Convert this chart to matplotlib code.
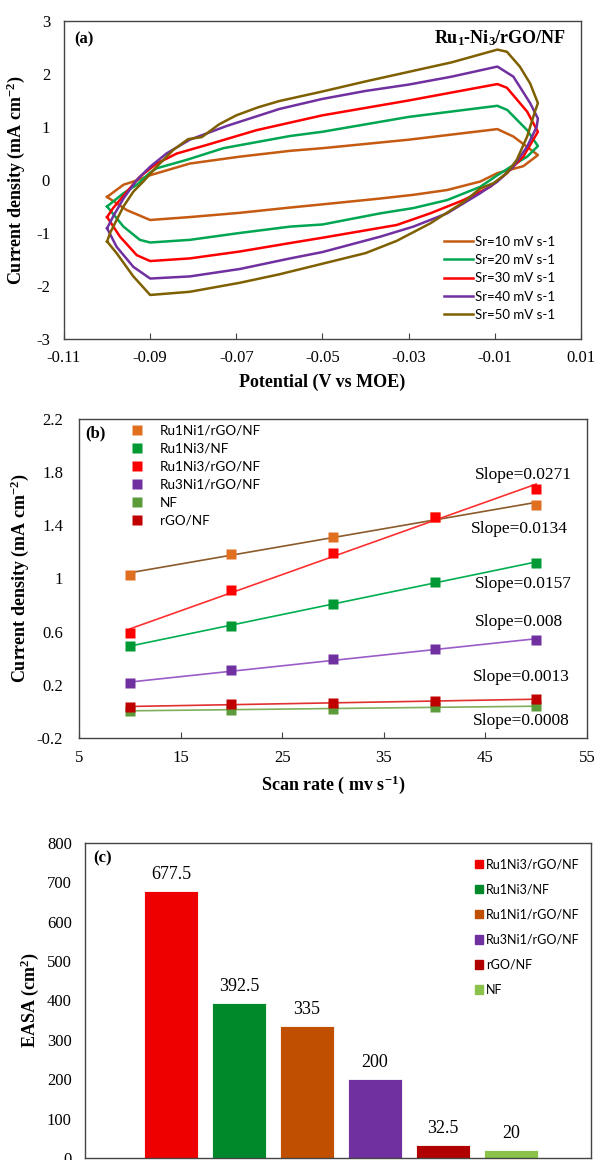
import numpy as np
import matplotlib.pyplot as plt
from matplotlib.lines import Line2D
from matplotlib.patches import Patch

plt.rcParams['font.family'] = ['Liberation Serif', 'DejaVu Serif']
plt.rcParams['mathtext.fontset'] = 'custom'
plt.rcParams['mathtext.rm'] = 'Liberation Serif:bold'
plt.rcParams['mathtext.it'] = 'Liberation Serif:bold'
plt.rcParams['mathtext.bf'] = 'Liberation Serif:bold'

# ---------------- (a) cyclic voltammograms ----------------
sr_labels = ['Sr=10 mV s-1', 'Sr=20 mV s-1', 'Sr=30 mV s-1', 'Sr=40 mV s-1', 'Sr=50 mV s-1']
sr_colors = ['#C55A11', '#00A651', '#FF0000', '#7030A0', '#7F6000']

# each loop: forward branch left->right, then reverse branch right->left
cv10_x = [-0.100, -0.0962, -0.0939, -0.090, -0.0808, -0.0692, -0.0575, -0.050, -0.030, -0.0094, -0.0057, -0.0026, 0.000,
          -0.0034, -0.0094, -0.0134, -0.0211, -0.0289, -0.0366, -0.050, -0.0575, -0.0692, -0.0808, -0.090, -0.0954, -0.100]
cv10_y = [-0.32, -0.09, -0.03, 0.09, 0.31, 0.44, 0.55, 0.60, 0.76, 0.96, 0.82, 0.63, 0.47,
          0.26, 0.13, -0.03, -0.19, -0.28, -0.35, -0.46, -0.52, -0.62, -0.70, -0.755, -0.57, -0.32]

cv20_x = [-0.100, -0.0962, -0.0931, -0.090, -0.0885, -0.0815, -0.073, -0.0575, -0.050, -0.030, -0.0094, -0.0071, -0.0025, 0.000,
          -0.0025, -0.0057, -0.0094, -0.0134, -0.0211, -0.0289, -0.0366, -0.050, -0.0575, -0.0692, -0.0808, -0.090, -0.0924, -0.0962, -0.100]
cv20_y = [-0.50, -0.25, -0.09, 0.14, 0.22, 0.38, 0.60, 0.83, 0.91, 1.19, 1.40, 1.32, 0.94, 0.64,
          0.44, 0.28, 0.09, -0.13, -0.38, -0.53, -0.63, -0.84, -0.88, -1.00, -1.13, -1.18, -1.13, -0.88, -0.50]

cv30_x = [-0.100, -0.0986, -0.0954, -0.0924, -0.0885, -0.0838, -0.0769, -0.0653, -0.050, -0.030, -0.0094, -0.0072, -0.0025, 0.000,
          -0.0034, -0.0072, -0.0111, -0.0173, -0.025, -0.0328, -0.050, -0.0575, -0.0692, -0.0808, -0.090, -0.0931, -0.097, -0.100]
cv30_y = [-0.70, -0.53, -0.22, 0.06, 0.31, 0.50, 0.66, 0.94, 1.22, 1.50, 1.81, 1.74, 1.29, 0.91,
          0.44, 0.13, -0.13, -0.38, -0.63, -0.85, -1.09, -1.19, -1.35, -1.48, -1.53, -1.42, -1.07, -0.70]

cv40_x = [-0.100, -0.0986, -0.0962, -0.0931, -0.090, -0.0862, -0.0808, -0.0722, -0.060, -0.050, -0.040, -0.030, -0.020, -0.0094, -0.0057, -0.0018, 0.000,
          -0.0003, -0.0025, -0.0057, -0.0094, -0.0134, -0.0211, -0.0289, -0.0366, -0.050, -0.0575, -0.0692, -0.0808, -0.090, -0.0939, -0.0978, -0.100]
cv40_y = [-0.91, -0.69, -0.35, 0.00, 0.25, 0.50, 0.76, 1.02, 1.34, 1.53, 1.68, 1.80, 1.95, 2.14, 1.95, 1.45, 1.16,
          1.00, 0.63, 0.25, -0.03, -0.25, -0.63, -0.88, -1.07, -1.36, -1.48, -1.68, -1.82, -1.86, -1.64, -1.26, -0.91]

cv50_x = [-0.100, -0.0993, -0.0962, -0.0939, -0.0916, -0.0885, -0.0846, -0.0812, -0.078, -0.074, -0.070, -0.065, -0.060, -0.050, -0.040, -0.030, -0.020, -0.0094, -0.0072, -0.0042, -0.0018, 0.000,
          -0.0007, -0.0025, -0.0049, -0.0072, -0.0103, -0.0134, -0.0173, -0.025, -0.0328, -0.040, -0.050, -0.060, -0.0692, -0.0808, -0.090, -0.0939, -0.0978, -0.100]
cv50_y = [-1.16, -1.00, -0.50, -0.22, -0.03, 0.25, 0.57, 0.77, 0.81, 1.05, 1.22, 1.37, 1.49, 1.67, 1.86, 2.04, 2.22, 2.46, 2.42, 2.14, 1.82, 1.45,
          1.29, 0.82, 0.38, 0.13, -0.06, -0.16, -0.42, -0.82, -1.15, -1.38, -1.58, -1.78, -1.94, -2.11, -2.17, -1.82, -1.38, -1.16]

a_xticks = [-0.11, -0.09, -0.07, -0.05, -0.03, -0.01, 0.01]
a_xticklabels = ['-0.11', '-0.09', '-0.07', '-0.05', '-0.03', '-0.01', '0.01']
a_yticks = [-3, -2, -1, 0, 1, 2, 3]
a_yticklabels = ['-3', '-2', '-1', '0', '1', '2', '3']

# ---------------- (b) current density vs scan rate ----------------
scan_rate = [10, 20, 30, 40, 50]
b_names = ['Ru1Ni1/rGO/NF', 'Ru1Ni3/NF', 'Ru1Ni3/rGO/NF', 'Ru3Ni1/rGO/NF', 'NF', 'rGO/NF']
j_ru1ni1_rgo = [1.03, 1.185, 1.31, 1.46, 1.555]
j_ru1ni3_nf = [0.494, 0.642, 0.81, 0.974, 1.12]
j_ru1ni3_rgo = [0.587, 0.911, 1.195, 1.459, 1.675]
j_ru3ni1_rgo = [0.212, 0.308, 0.391, 0.469, 0.539]
j_nf = [0.004, 0.014, 0.021, 0.031, 0.039]
j_rgo = [0.036, 0.054, 0.061, 0.079, 0.092]
b_marker_colors = ['#E07020', '#009933', '#FF0000', '#7030A0', '#5B9B3A', '#C00000']
b_line_colors = ['#8C5A2B', '#00B050', '#FF3030', '#9A5CC8', '#7FAF5A', '#E03030']
slope_texts = ['Slope=0.0271', 'Slope=0.0134', 'Slope=0.0157', 'Slope=0.008', 'Slope=0.0013', 'Slope=0.0008']
slope_x = [48.7, 48.3, 48.7, 48.3, 48.5, 48.5]
slope_y = [1.78, 1.37, 0.956, 0.67, 0.26, -0.074]
b_xticks = [5, 15, 25, 35, 45, 55]
b_yticks = [-0.2, 0.2, 0.6, 1.0, 1.4, 1.8, 2.2]
b_yticklabels = ['-0.2', '0.2', '0.6', '1', '1.4', '1.8', '2.2']

# ---------------- (c) EASA ----------------
c_names = ['Ru1Ni3/rGO/NF', 'Ru1Ni3/NF', 'Ru1Ni1/rGO/NF', 'Ru3Ni1/rGO/NF', 'rGO/NF', 'NF']
easa = [677.5, 392.5, 335, 200, 32.5, 20]
easa_labels = ['677.5', '392.5', '335', '200', '32.5', '20']
c_colors = ['#EE0000', '#00892B', '#C05000', '#7030A0', '#B00000', '#8BC34A']

fig = plt.figure(figsize=(5.97, 11.6), dpi=100)
spine_col = '#444444'

def style_box(ax):
    for s in ax.spines.values():
        s.set_color(spine_col)
        s.set_linewidth(1.0)

# ---- panel a
ax1 = fig.add_axes([0.1072, 0.7078, 0.866, 0.2741])
loops = [(cv10_x, cv10_y), (cv20_x, cv20_y), (cv30_x, cv30_y), (cv40_x, cv40_y), (cv50_x, cv50_y)]
for (lx, ly), c, lab in zip(loops, sr_colors, sr_labels):
    ax1.plot(lx, ly, color=c, lw=1.8, label=lab)
ax1.set_xlim(-0.11, 0.01)
ax1.set_ylim(-3, 3)
ax1.set_xticks(a_xticks)
ax1.set_xticklabels(a_xticklabels)
ax1.set_yticks(a_yticks)
ax1.set_yticklabels(a_yticklabels)
ax1.tick_params(axis='x', direction='in', length=4, pad=8, labelsize=12, color=spine_col)
ax1.tick_params(axis='y', length=0, pad=10, labelsize=12)
style_box(ax1)
ax1.set_xlabel('Potential (V vs MOE)', fontsize=13, fontweight='bold')
ax1.set_ylabel('Current density (mA cm$^{-2}$)', fontsize=13, fontweight='bold')
ax1.xaxis.set_label_coords(0.5, -0.11)
ax1.yaxis.set_label_coords(-0.072, 0.5)
ax1.text(0.02, 0.943, '(a)', transform=ax1.transAxes, fontsize=12, fontweight='bold', va='center')
ax1.text(0.971, 0.947, 'Ru$_1$-Ni$_3$/rGO/NF', transform=ax1.transAxes, fontsize=13,
         fontweight='bold', va='center', ha='right')
ax1.legend(loc='upper left', bbox_to_anchor=(0.735, 0.325), frameon=False, borderpad=0, borderaxespad=0,
           handlelength=2.2, handletextpad=0.15, labelspacing=0.48,
           prop={'family': 'Lato', 'size': 9.5})

# ---- panel b
ax2 = fig.add_axes([0.1323, 0.3638, 0.851, 0.275])
b_series = [j_ru1ni1_rgo, j_ru1ni3_nf, j_ru1ni3_rgo, j_ru3ni1_rgo, j_nf, j_rgo]
xs = np.array(scan_rate, dtype=float)
for ys, mc, lc in zip(b_series, b_marker_colors, b_line_colors):
    k, b0 = np.polyfit(xs, ys, 1)
    ax2.plot(xs, k * xs + b0, color=lc, lw=1.2, zorder=2)
for ys, mc in zip(b_series, b_marker_colors):
    ax2.plot(xs, ys, 's', color=mc, ms=6.5, mec='none', zorder=3)
for t, tx, ty in zip(slope_texts, slope_x, slope_y):
    ax2.text(tx, ty, t, fontsize=12.5, ha='center', va='center')
ax2.set_xlim(5, 55)
ax2.set_ylim(-0.2, 2.2)
ax2.set_xticks(b_xticks)
ax2.set_yticks(b_yticks)
ax2.set_yticklabels(b_yticklabels)
ax2.tick_params(axis='x', direction='in', length=4, pad=9, labelsize=12, color=spine_col)
ax2.tick_params(axis='y', length=0, pad=11.5, labelsize=12)
style_box(ax2)
ax2.set_xlabel('Scan rate ( mv s$^{-1}$)', fontsize=13, fontweight='bold')
ax2.set_ylabel('Current density (mA cm$^{-2}$)', fontsize=13, fontweight='bold')
ax2.xaxis.set_label_coords(0.5, -0.11)
ax2.yaxis.set_label_coords(-0.094, 0.5)
ax2.text(0.012, 0.956, '(b)', transform=ax2.transAxes, fontsize=12, fontweight='bold', va='center')
b_handles = [Line2D([], [], ls='none', marker='s', color=c, ms=6.5, mec='none') for c in b_marker_colors]
ax2.legend(b_handles, b_names, loc='upper left', bbox_to_anchor=(0.100, 0.983), frameon=False,
           borderpad=0, borderaxespad=0, handlelength=1.0, handletextpad=1.25, labelspacing=0.45,
           prop={'family': 'Lato', 'size': 9.7})

# ---- panel c
ax3 = fig.add_axes([0.1424, 0.0017, 0.8476, 0.2716])
pos = np.arange(len(easa))
bars = ax3.bar(pos, easa, width=0.79, color=c_colors, edgecolor='white', linewidth=0.6)
for p, v, lab in zip(pos, easa, easa_labels):
    ax3.annotate(lab, (p, v), xytext=(0, 6), textcoords='offset points', ha='center', va='bottom', fontsize=13)
ax3.set_xlim(-1.265, 6.176)
ax3.set_ylim(0, 800)
ax3.set_xticks([])
ax3.set_yticks(range(0, 801, 100))
ax3.tick_params(axis='y', length=0, pad=9.5, labelsize=12)
style_box(ax3)
ax3.set_ylabel('EASA (cm$^{2}$)', fontsize=13, fontweight='bold')
ax3.yaxis.set_label_coords(-0.087, 0.5)
ax3.text(0.016, 0.952, '(c)', transform=ax3.transAxes, fontsize=12, fontweight='bold', va='center')
c_handles = [Patch(color=c) for c in c_colors]
ax3.legend(c_handles, c_names, loc='upper left', bbox_to_anchor=(0.771, 0.951), frameon=False,
           borderpad=0, borderaxespad=0, handlelength=0.65, handleheight=0.65, handletextpad=0.2,
           labelspacing=1.05, prop={'family': 'Lato', 'size': 9})

fig.savefig('out.png', dpi=100)
